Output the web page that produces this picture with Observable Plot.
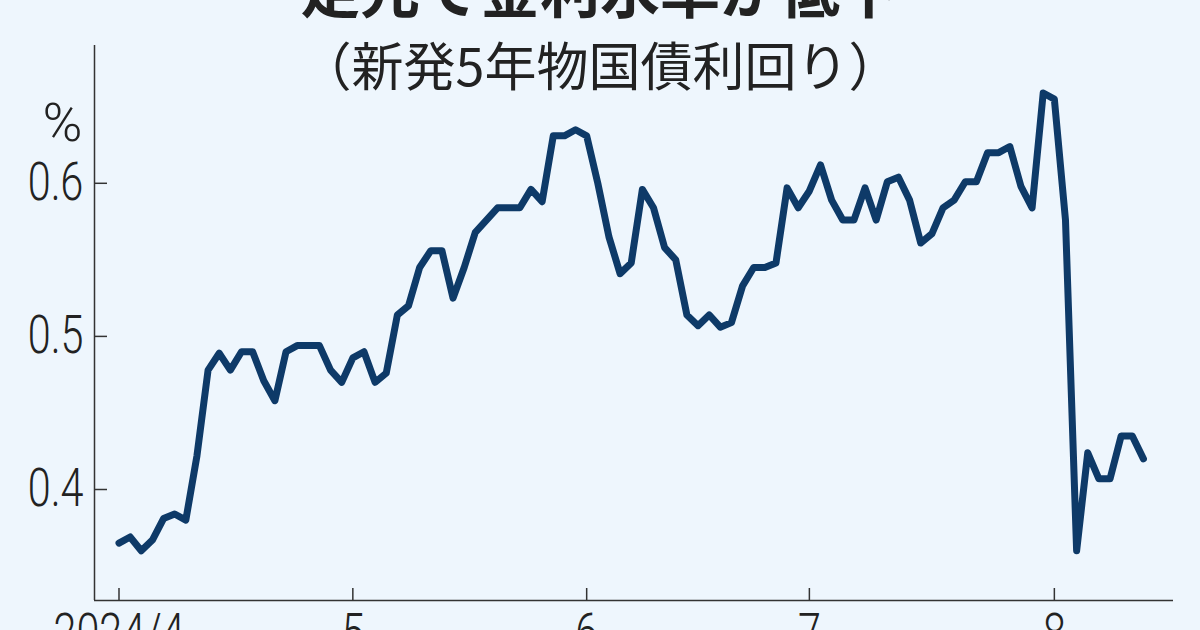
<!DOCTYPE html>
<html>
<head>
<meta charset="utf-8">
<script src="https://cdn.jsdelivr.net/npm/d3@7"></script>
<script src="https://cdn.jsdelivr.net/npm/@observablehq/plot@0.6"></script>
<style>
  html, body { margin: 0; padding: 0; width: 1200px; height: 630px; overflow: hidden; background: #EEF6FD; }
  #wrap { position: relative; width: 1200px; height: 630px; }
  #title { position: absolute; left: 0; top: -43px; width: 1200px; text-align: center; z-index: 2;
           font: 700 60px/1 "Noto Sans CJK JP", sans-serif; color: #222; }
  #subtitle { position: absolute; left: 0; top: 38px; width: 1200px; text-align: center; z-index: 2;
           font: 400 52px/1 "Noto Sans CJK JP", sans-serif; color: #222; }
  #chart { position: absolute; left: 0; top: 0; }
</style>
</head>
<body>
<div id="wrap">
  <div id="title">足元で金利水準が低下</div>
  <div id="subtitle">（新発5年物国債利回り）</div>
  <div id="chart"></div>
</div>
<script>
// 新発5年物国債利回り (%), one value per trading day from 2024/4/1
const yields = [
  0.365, 0.369, 0.360, 0.367, 0.381, 0.384, 0.380, 0.422, 0.478, 0.489,
  0.478, 0.490, 0.490, 0.471, 0.458, 0.490, 0.494, 0.494, 0.494, 0.478,
  0.470, 0.486, 0.490, 0.470, 0.476, 0.514, 0.520, 0.545, 0.556, 0.556,
  0.525, 0.545, 0.568, 0.576, 0.584, 0.584, 0.584, 0.596, 0.588, 0.631,
  0.631, 0.635, 0.631, 0.600, 0.565, 0.541, 0.548, 0.596, 0.584, 0.558,
  0.550, 0.514, 0.507, 0.514, 0.506, 0.509, 0.533, 0.545, 0.545, 0.548,
  0.597, 0.584, 0.595, 0.612, 0.589, 0.576, 0.576, 0.597, 0.576, 0.601,
  0.604, 0.589, 0.561, 0.567, 0.584, 0.589, 0.601, 0.601, 0.620, 0.620,
  0.624, 0.598, 0.584, 0.659, 0.655, 0.576, 0.360, 0.424, 0.407, 0.407,
  0.435, 0.435, 0.420
];
// trading-day index of the first day of each month, and its label
const xTickIndex = [0, 21, 42, 62, 84];
const xTickLabels = ["2024/4", "5", "6", "7", "8"];
const yTicks = [0.4, 0.5, 0.6];
const yUnit = "%";

const xDomain = [-2.2, 94.7];
const yDomain = [0.3275, 0.690];

const axisColor = "#333";
const lineColor = "#0E3A68";
const tickFont = 'Roboto, "Noto Sans", sans-serif';

const chart = Plot.plot({
  width: 1200,
  height: 660,
  marginLeft: 94,
  marginRight: 27,
  marginTop: 45,
  marginBottom: 60,
  style: { background: "transparent", fontFamily: tickFont, fontSize: "52px", fontWeight: 300, color: "#222", overflow: "visible" },
  x: { type: "linear", domain: xDomain },
  y: { type: "linear", domain: yDomain },
  marks: [
    Plot.ruleX([xDomain[0]], { stroke: axisColor, strokeWidth: 1.5 }),
    Plot.ruleY([yDomain[0]], { stroke: axisColor, strokeWidth: 1.5 }),
    Plot.axisY({
      ticks: yTicks, tickFormat: d => d.toFixed(1), tickSize: -13, tickPadding: 24,
      stroke: axisColor, strokeWidth: 1.5, label: null, fontSize: 53, fill: "#222"
    }),
    Plot.axisX({
      ticks: xTickIndex, tickFormat: d => xTickLabels[xTickIndex.indexOf(d)], tickSize: -12, tickPadding: 25,
      stroke: axisColor, strokeWidth: 1.5, label: null, fontSize: 53, fill: "#222"
    }),
    Plot.text([yUnit], { frameAnchor: "top-left", dx: -32, dy: 57, text: d => d, fontSize: 54, fill: "#222", textAnchor: "middle", ariaLabel: "unit" }),
    Plot.lineY(yields, { x: (d, i) => i, y: d => d, stroke: lineColor, strokeWidth: 7, strokeLinejoin: "round", strokeLinecap: "round" })
  ]
});

// narrow the tick labels horizontally to match the condensed typeface of the original
chart.querySelectorAll('g[aria-label="y-axis tick label"] text, g[aria-label="x-axis tick label"] text, g[aria-label="unit"] text').forEach(t => {
  const tr = t.getAttribute("transform");
  if (tr) {
    t.setAttribute("transform", tr + " scale(0.78,1)");
  } else {
    const xa = t.getAttribute("x");
    const x = xa != null && !isNaN(+xa) ? +xa : 0;
    t.removeAttribute("x");
    t.setAttribute("transform", `translate(${x},0) scale(0.78,1)`);
  }
});
document.getElementById("chart").appendChild(chart);
</script>
</body>
</html>
